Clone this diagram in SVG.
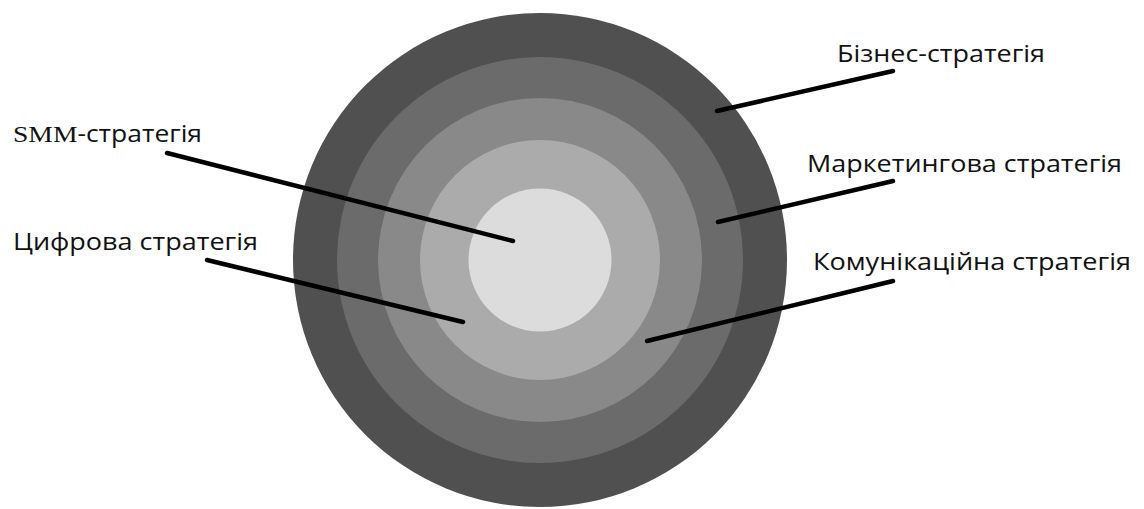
<svg xmlns="http://www.w3.org/2000/svg" width="1144" height="509" viewBox="0 0 1144 509">
  <style>
    .lbl { font-family: "Open Sans", "Noto Sans", "DejaVu Sans", sans-serif; font-size: 23px; fill: #111111; }
    .serif { font-family: "Liberation Serif", "Times New Roman", serif; font-size: 24px; }
    .conn line { stroke: #000000; stroke-width: 4.5; stroke-linecap: round; }
  </style>
  <rect width="1144" height="509" fill="#ffffff"/>
  <g id="rings">
    <circle id="ring-business" cx="540" cy="260" r="247" fill="#505050"/>
    <circle id="ring-marketing" cx="540" cy="260" r="203" fill="#6b6b6b"/>
    <circle id="ring-communication" cx="540" cy="260" r="162" fill="#898989"/>
    <circle id="ring-digital" cx="540" cy="260" r="120" fill="#ababab"/>
    <circle id="ring-smm" cx="540" cy="260" r="71.5" fill="#dcdcdc"/>
  </g>
  <g id="connectors" class="conn">
    <line x1="167" y1="153" x2="513" y2="241"/>
    <line x1="207" y1="260" x2="463" y2="322"/>
    <line x1="717" y1="111" x2="893" y2="71"/>
    <line x1="718" y1="222" x2="893" y2="181"/>
    <line x1="647" y1="341" x2="893" y2="281"/>
  </g>
  <g id="label-smm"><text class="lbl" x="13" y="142" textLength="189" lengthAdjust="spacingAndGlyphs"><tspan class="serif">SMM</tspan>-стратегія</text></g>
  <g id="label-digital"><text class="lbl" x="13" y="250" textLength="245" lengthAdjust="spacingAndGlyphs">Цифрова стратегія</text></g>
  <g id="label-business"><text class="lbl" x="837" y="62" textLength="208" lengthAdjust="spacingAndGlyphs">Бізнес-стратегія</text></g>
  <g id="label-marketing"><text class="lbl" x="807" y="172" textLength="315" lengthAdjust="spacingAndGlyphs">Маркетингова стратегія</text></g>
  <g id="label-communication"><text class="lbl" x="813" y="270" textLength="318" lengthAdjust="spacingAndGlyphs">Комунікаційна стратегія</text></g>
</svg>
